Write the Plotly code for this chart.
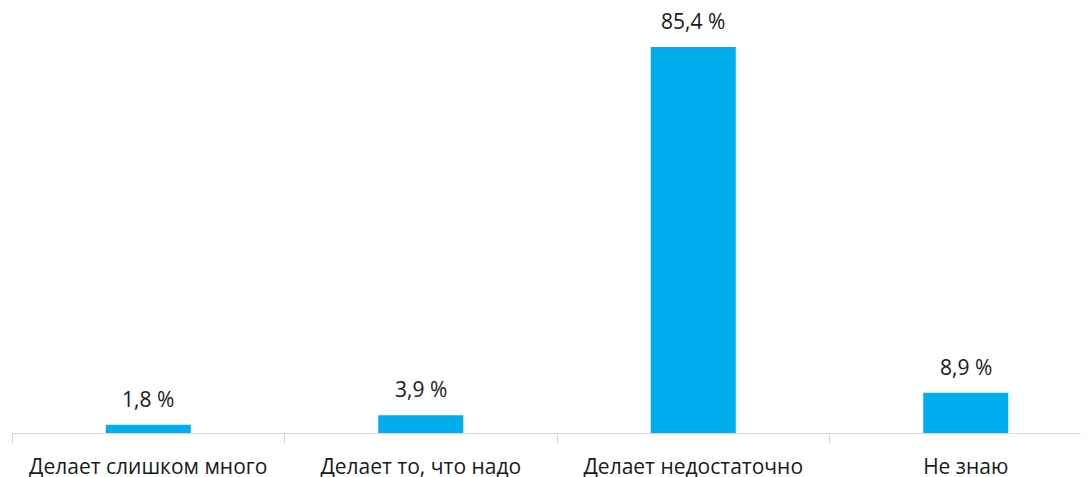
import plotly.graph_objects as go

categories = ["Делает слишком много", "Делает то, что надо", "Делает недостаточно", "Не знаю"]
values = [1.8, 3.9, 85.4, 8.9]
value_labels = [f"{v:.1f}".replace(".", ",") + " %" for v in values]

FONT = "Open Sans, Noto Sans, sans-serif"
BAR_COLOR = "#00AEEF"

fig = go.Figure()
fig.add_trace(go.Bar(
    x=categories,
    y=values,
    marker=dict(color=BAR_COLOR, line=dict(width=0)),
    width=0.312,
    hoverinfo="skip",
))

for c, v, t in zip(categories, values, value_labels):
    fig.add_annotation(
        x=c, y=v, text=t, showarrow=False,
        xanchor="center", yanchor="bottom", yshift=10,
        font=dict(family=FONT, size=21, color="#1a1a1a"),
    )

fig.update_layout(
    width=1089, height=477,
    margin=dict(l=4, r=8, t=0, b=52),
    paper_bgcolor="white", plot_bgcolor="white",
    showlegend=False,
    font=dict(family=FONT, size=21, color="#1a1a1a"),
    xaxis=dict(
        type="category",
        range=[-0.5, -0.5 + 1077 / 272.5],
        tickson="boundaries",
        ticks="outside", ticklen=10, tickcolor="#d9d9d9", tickwidth=1,
        showline=True, linecolor="#d9d9d9", linewidth=1,
        showgrid=False, zeroline=False, automargin=False,
        ticklabelstandoff=15,
        tickfont=dict(family=FONT, size=21, color="#1a1a1a"),
    ),
    yaxis=dict(
        range=[0, 425 / 4.52], visible=False, showgrid=False, zeroline=False,
        automargin=False,
    ),
)

fig.write_html("out.html")
